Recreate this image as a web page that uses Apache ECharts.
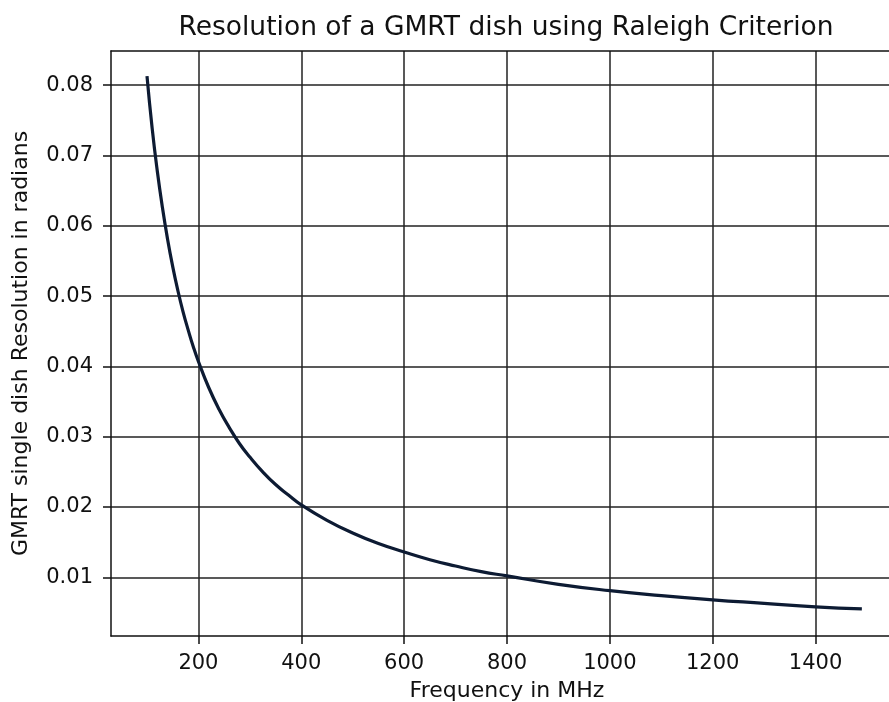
<!DOCTYPE html>
<html>
<head>
<meta charset="utf-8">
<script src="https://cdn.jsdelivr.net/npm/echarts@6/dist/echarts.min.js"></script>
<style>
html,body{margin:0;padding:0;background:#fff;}
#chart{width:889px;height:702px;}
</style>
</head>
<body>
<div id="chart"></div>
<script>
// Frequency in MHz
const frequencies = [100,110,120,130,140,150,160,170,180,190,200,220,240,260,280,300,325,350,375,400,450,500,550,600,650,700,750,800,900,1000,1100,1200,1300,1400,1490];
// Resolution in radians
const resolution = [0.0813,0.0739,0.0678,0.0626,0.0581,0.0542,0.0508,0.0478,0.0452,0.0428,0.0407,0.0370,0.0339,0.0313,0.0290,0.0271,0.0250,0.0232,0.0217,0.0203,0.0181,0.0163,0.0148,0.0136,0.0125,0.0116,0.0108,0.0102,0.0090,0.0081,0.0074,0.0068,0.0063,0.0058,0.0055];
const xTickLabels = ['200','400','600','800','1000','1200','1400'];
const yTickLabels = ['0.01','0.02','0.03','0.04','0.05','0.06','0.07','0.08'];

const FONT = 'DejaVu Sans';
const chart = echarts.init(document.getElementById('chart'), null, {renderer:'canvas'});
const data = frequencies.map((f,i)=>[f, resolution[i]]);

chart.setOption({
  animation:false,
  backgroundColor:'#fff',
  title:{
    text:'Resolution of a GMRT dish using Raleigh Criterion',
    left:501, top:10, textAlign:'center',
    textStyle:{fontFamily:FONT, fontSize:26.5, fontWeight:'normal', color:'#111'}
  },
  grid:{left:111, top:51, right:-14, bottom:66, containLabel:false, outerBoundsMode:'none', show:false},
  xAxis:[{
    type:'value', min:30, max:1570, minInterval:200, maxInterval:200,
    name:'Frequency in MHz', nameLocation:'middle', nameGap:44,
    nameTextStyle:{fontFamily:FONT, fontSize:22, color:'#111'},
    axisLine:{show:true, onZero:false, lineStyle:{color:'#111', width:1.5}},
    axisTick:{show:true, length:8, inside:false, lineStyle:{color:'#111', width:1.5}},
    axisLabel:{fontFamily:FONT, fontSize:21, color:'#111', margin:17, showMinLabel:false, showMaxLabel:false,
      formatter:v=>{const s=String(Math.round(v)); return xTickLabels.includes(s)?s:'';}},
    splitLine:{show:true, showMinLine:false, showMaxLine:false, lineStyle:{color:'#222', width:1.5}}
  },{
    type:'value', position:'top', min:30, max:1570,
    axisLine:{show:true, onZero:false, lineStyle:{color:'#111', width:1.5}},
    axisTick:{show:false}, axisLabel:{show:false}, splitLine:{show:false}
  }],
  yAxis:{
    type:'value', min:0.00165, max:0.08487, minInterval:0.01, maxInterval:0.01,
    name:'GMRT single dish Resolution in radians', nameLocation:'middle', nameGap:79, nameRotate:90,
    nameTextStyle:{fontFamily:FONT, fontSize:22, color:'#111'},
    axisLine:{show:true, onZero:false, lineStyle:{color:'#111', width:1.5}},
    axisTick:{show:true, length:8, inside:false, lineStyle:{color:'#111', width:1.5}},
    axisLabel:{fontFamily:FONT, fontSize:21, color:'#111', margin:18, showMinLabel:false, showMaxLabel:false,
      formatter:v=>{const s=v.toFixed(2); return yTickLabels.includes(s)?s:'';}},
    splitLine:{show:true, showMinLine:false, showMaxLine:false, lineStyle:{color:'#222', width:1.5}}
  },
  series:[{
    type:'line', xAxisIndex:0, data:data, smooth:true, showSymbol:false, symbol:'none',
    lineStyle:{color:'#0d1b33', width:3.2}, z:5
  }]
});
</script>
</body>
</html>
